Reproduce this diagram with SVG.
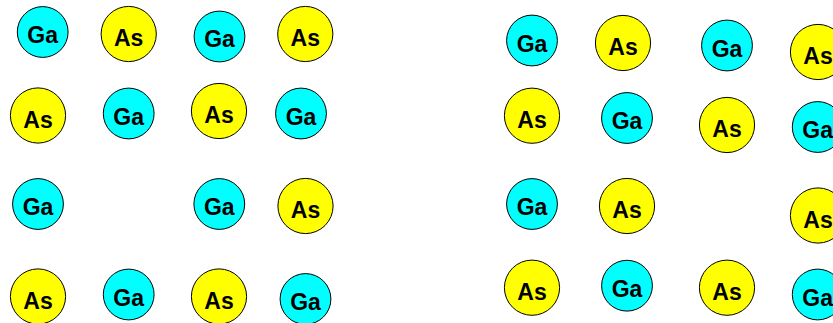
<svg xmlns="http://www.w3.org/2000/svg" width="833" height="323" viewBox="0 0 833 323">
<style>
.ga{fill:#00FFFF;stroke:#000;stroke-width:1}
.as{fill:#FFFF00;stroke:#000;stroke-width:1}
text{font-family:"Liberation Sans",Arial,sans-serif;font-weight:bold;font-size:23px;text-anchor:middle;fill:#000}
</style>
<rect width="833" height="323" fill="#fff"/>
<g id="left">
<g id="L1"><circle class="ga" cx="42.7" cy="32" r="25.4"/><text x="42.7" y="42.5">Ga</text></g>
<g id="L2"><circle class="as" cx="128.7" cy="34" r="27.6"/><text x="128.7" y="46">As</text></g>
<g id="L3"><circle class="ga" cx="219.5" cy="36.5" r="25.4"/><text x="219.5" y="47">Ga</text></g>
<g id="L4"><circle class="as" cx="305.3" cy="34" r="27.6"/><text x="305.3" y="46">As</text></g>
<g id="L5"><circle class="as" cx="38" cy="115.5" r="27.6"/><text x="38" y="127.5">As</text></g>
<g id="L6"><circle class="ga" cx="128.7" cy="113.5" r="25.4"/><text x="128.7" y="125">Ga</text></g>
<g id="L7"><circle class="as" cx="219" cy="111" r="27.6"/><text x="219" y="123">As</text></g>
<g id="L8"><circle class="ga" cx="301" cy="113.5" r="25.4"/><text x="301" y="125">Ga</text></g>
<g id="L9"><circle class="ga" cx="38" cy="204" r="25.4"/><text x="38" y="215">Ga</text></g>
<g id="L10"><circle class="ga" cx="219.3" cy="204" r="25.4"/><text x="219.3" y="215">Ga</text></g>
<g id="L11"><circle class="as" cx="305.5" cy="206" r="27.6"/><text x="305.5" y="218">As</text></g>
<g id="L12"><circle class="as" cx="38" cy="296.5" r="27.6"/><text x="38" y="308.5">As</text></g>
<g id="L13"><circle class="ga" cx="128.7" cy="294.5" r="25.4"/><text x="128.7" y="305.5">Ga</text></g>
<g id="L14"><circle class="as" cx="219" cy="296.5" r="27.6"/><text x="219" y="308.5">As</text></g>
<g id="L15"><circle class="ga" cx="305.5" cy="299" r="25.4"/><text x="305.5" y="310">Ga</text></g>
</g>
<g id="right">
<g id="R1"><circle class="ga" cx="532" cy="40.5" r="25.4"/><text x="532" y="51.5">Ga</text></g>
<g id="R2"><circle class="as" cx="623" cy="43" r="27.6"/><text x="623" y="55">As</text></g>
<g id="R3"><circle class="ga" cx="727" cy="45.5" r="25.4"/><text x="727" y="56.5">Ga</text></g>
<g id="R4"><circle class="as" cx="818" cy="52" r="27.6"/><text x="818" y="64">As</text></g>
<g id="R5"><circle class="as" cx="532" cy="115.7" r="27.6"/><text x="532" y="127.7">As</text></g>
<g id="R6"><circle class="ga" cx="627" cy="118" r="25.4"/><text x="627" y="129">Ga</text></g>
<g id="R7"><circle class="as" cx="727" cy="125" r="27.6"/><text x="727" y="137">As</text></g>
<g id="R8"><circle class="ga" cx="817.7" cy="127" r="25.4"/><text x="817.7" y="138">Ga</text></g>
<g id="R9"><circle class="ga" cx="532" cy="204" r="25.4"/><text x="532" y="215">Ga</text></g>
<g id="R10"><circle class="as" cx="627" cy="206" r="27.6"/><text x="627" y="218">As</text></g>
<g id="R11"><circle class="as" cx="818" cy="215.5" r="27.6"/><text x="818" y="227.5">As</text></g>
<g id="R12"><circle class="as" cx="532" cy="287.7" r="27.6"/><text x="532" y="299.7">As</text></g>
<g id="R13"><circle class="ga" cx="627" cy="285.7" r="25.4"/><text x="627" y="296.7">Ga</text></g>
<g id="R14"><circle class="as" cx="727" cy="287.7" r="27.6"/><text x="727" y="299.7">As</text></g>
<g id="R15"><circle class="ga" cx="817.7" cy="294.5" r="25.4"/><text x="817.7" y="305.5">Ga</text></g>
</g>
<g id="connectors"/>
</svg>
